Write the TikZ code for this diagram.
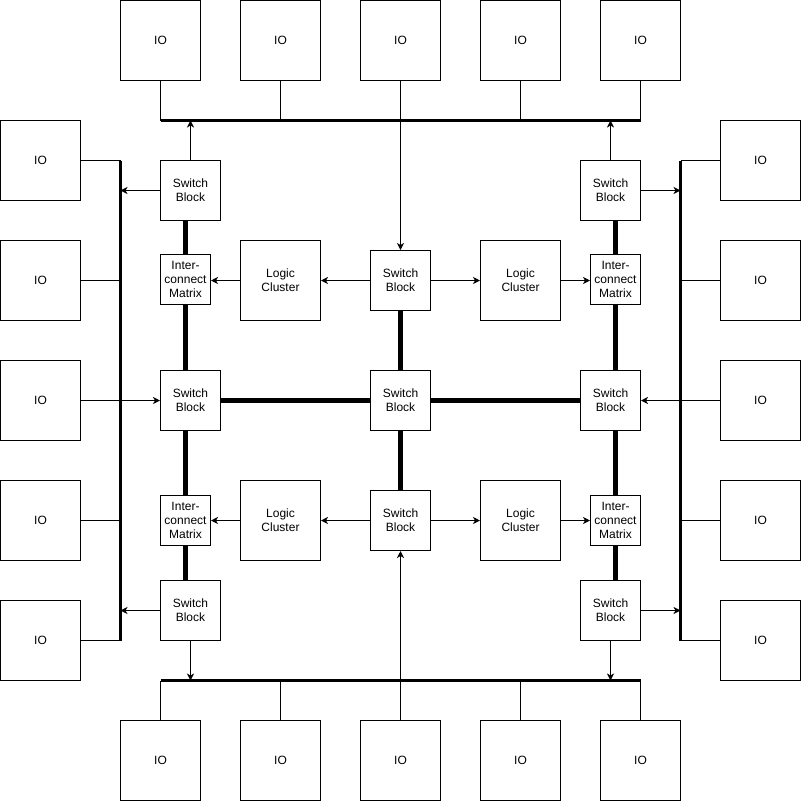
\documentclass[tikz,border=0pt]{standalone}
\usepackage{fontspec}
\setmainfont{Liberation Sans}
\usetikzlibrary{arrows.meta}
\begin{document}
\begin{tikzpicture}[x=1pt,y=-1pt,
  box/.style={draw,line width=1pt,inner sep=0pt,align=center,font=\fontsize{12}{14}\selectfont},
  io/.style={box,minimum width=80pt,minimum height=80pt},
  sb/.style={box,minimum width=60pt,minimum height=60pt},
  lc/.style={box,minimum width=80pt,minimum height=80pt},
  im/.style={box,minimum width=50pt,minimum height=50pt},
  bus/.style={line width=3pt},
  thick link/.style={line width=4.5pt},
  wire/.style={line width=1pt},
  arr/.style={line width=1pt,-{Stealth[length=7pt,width=7pt,inset=2pt]}}]
\useasboundingbox (0,0) rectangle (801,801);
\begin{scope}[shift={(0.5,0.5)}]
% IO boxes
\foreach \i/\c in {1/160,2/280,3/400,4/520,5/640}{
  \node[io] (t\i) at (\c,40) {IO};
  \node[io] (b\i) at (\c,760) {IO};
  \node[io] (l\i) at (40,\c) {IO};
  \node[io] (r\i) at (760,\c) {IO};
}
% bus coordinates
\coordinate (tb1) at (160,120); \coordinate (tb2) at (640,120);
\coordinate (bb1) at (160,680); \coordinate (bb2) at (640,680);
\coordinate (lb1) at (120,160); \coordinate (lb2) at (120,640);
\coordinate (rb1) at (680,160); \coordinate (rb2) at (680,640);
% switch blocks
\node[sb] (sbtl) at (190,190) {Switch\\Block};
\node[sb] (sbtr) at (610,190) {Switch\\Block};
\node[sb] (sbml) at (190,400) {Switch\\Block};
\node[sb] (sbc)  at (400,400) {Switch\\Block};
\node[sb] (sbmr) at (610,400) {Switch\\Block};
\node[sb] (sbtc) at (400,280) {Switch\\Block};
\node[sb] (sbbc) at (400,520) {Switch\\Block};
\node[sb] (sbbl) at (190,610) {Switch\\Block};
\node[sb] (sbbr) at (610,610) {Switch\\Block};
% interconnect matrices
\node[im] (imtl) at (185,279) {Inter-\\connect\\Matrix};
\node[im] (imtr) at (615,279) {Inter-\\connect\\Matrix};
\node[im] (imbl) at (185,520) {Inter-\\connect\\Matrix};
\node[im] (imbr) at (615,520) {Inter-\\connect\\Matrix};
% logic clusters
\node[lc] (lctl) at (280,280) {Logic\\Cluster};
\node[lc] (lctr) at (520,280) {Logic\\Cluster};
\node[lc] (lcbl) at (280,520) {Logic\\Cluster};
\node[lc] (lcbr) at (520,520) {Logic\\Cluster};
% buses
\draw[bus] (tb1) -- (tb2);
\draw[bus] (bb1) -- (bb2);
\draw[bus] (lb1) -- (lb2);
\draw[bus] (rb1) -- (rb2);
% IO to bus wires
\foreach \i in {1,2,4,5}{
  \draw[wire] (t\i.south) -- (t\i.south |- tb1);
  \draw[wire] (b\i.north) -- (b\i.north |- bb1);
  \draw[wire] (l\i.east) -- (l\i.east -| lb1);
  \draw[wire] (r\i.west) -- (r\i.west -| rb1);
}
% IO to switch blocks
\draw[arr] (t3.south) -- (sbtc.north);
\draw[arr] (b3.north) -- (sbbc.south);
\draw[arr] (l3.east) -- (sbml.west);
\draw[arr] (r3.west) -- (sbmr.east);
% corner switch blocks to buses
\draw[arr] (sbtl.north) -- (sbtl.north |- tb1);
\draw[arr] (sbtl.west) -- (sbtl.west -| lb1);
\draw[arr] (sbtr.north) -- (sbtr.north |- tb2);
\draw[arr] (sbtr.east) -- (sbtr.east -| rb1);
\draw[arr] (sbbl.south) -- (sbbl.south |- bb1);
\draw[arr] (sbbl.west) -- (sbbl.west -| lb2);
\draw[arr] (sbbr.south) -- (sbbr.south |- bb2);
\draw[arr] (sbbr.east) -- (sbbr.east -| rb2);
% center switch blocks to logic clusters
\draw[arr] (sbtc.west) -- (lctl.east);
\draw[arr] (sbtc.east) -- (lctr.west);
\draw[arr] (sbbc.west) -- (lcbl.east);
\draw[arr] (sbbc.east) -- (lcbr.west);
% logic clusters to interconnect matrices
\draw[arr] (lctl.west) -- (lctl.west -| imtl.east);
\draw[arr] (lctr.east) -- (lctr.east -| imtr.west);
\draw[arr] (lcbl.west) -- (imbl.east);
\draw[arr] (lcbr.east) -- (imbr.west);
% thick links
\draw[thick link] (imtl.north) -- (imtl.north |- sbtl.south);
\draw[thick link] (imtl.south) -- (imtl.south |- sbml.north);
\draw[thick link] (imbl.north) -- (imbl.north |- sbml.south);
\draw[thick link] (imbl.south) -- (imbl.south |- sbbl.north);
\draw[thick link] (imtr.north) -- (imtr.north |- sbtr.south);
\draw[thick link] (imtr.south) -- (imtr.south |- sbmr.north);
\draw[thick link] (imbr.north) -- (imbr.north |- sbmr.south);
\draw[thick link] (imbr.south) -- (imbr.south |- sbbr.north);
\draw[thick link] (sbtc.south) -- (sbc.north);
\draw[thick link] (sbc.south) -- (sbbc.north);
\draw[thick link] (sbml.east) -- (sbc.west);
\draw[thick link] (sbc.east) -- (sbmr.west);
\end{scope}
\end{tikzpicture}
\end{document}
